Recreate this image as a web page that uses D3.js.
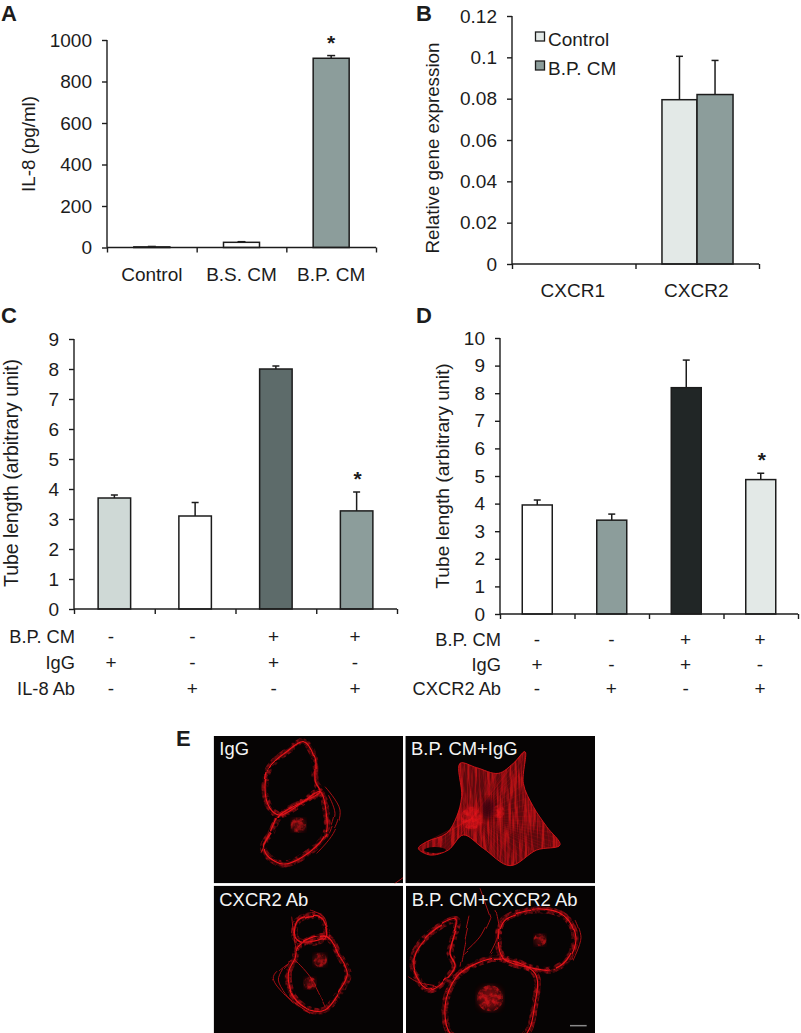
<!DOCTYPE html>
<html><head><meta charset="utf-8">
<script src="https://cdn.jsdelivr.net/npm/d3@7"></script>
<style>html,body{margin:0;padding:0;background:#fff}svg{display:block}text{font-family:"Liberation Sans",Arial,sans-serif;fill:#1c1c1c}</style>
</head><body><svg id="fig" width="801" height="1033"></svg>
<script>
// ---- data ----
const catsA = ["Control","B.S. CM","B.P. CM"];
const valsA = [3,25,912];
const errA  = [5,28,925];
const ticksA = [0,200,400,600,800,1000];
const catsB = ["CXCR1","CXCR2"];
const seriesB = ["Control","B.P. CM"];
const valsBControl = [0,0.0795];
const valsBCM = [0,0.082];
const errBControl = [0,0.1005];
const errBCM = [0,0.0985];
const ticksB = [0,0.02,0.04,0.06,0.08,0.1,0.12];
const valsC = [3.7,3.1,8.0,3.27];
const errC  = [3.8,3.55,8.1,3.9];
const ticksC = [0,1,2,3,4,5,6,7,8,9];
const valsD = [3.95,3.4,8.2,4.87];
const errD  = [4.13,3.62,9.2,5.1];
const ticksD = [0,1,2,3,4,5,6,7,8,9,10];
const rowsC = ["B.P. CM","IgG","IL-8 Ab"];
const rowsD = ["B.P. CM","IgG","CXCR2 Ab"];
const signsBP  = ["-","-","+","+"];
const signsIgG = ["+","-","+","-"];
const signsAb  = ["-","+","-","+"];
const imageLabels = ["IgG","B.P. CM+IgG","CXCR2 Ab","B.P. CM+CXCR2 Ab"];

// traced outlines of the micrograph cells, in reference-crop units
const cellsIgG = [
 [[400,65],[432,110],[436,185],[450,215],[400,245],[330,285],[300,265],[285,200],[300,140],[350,95]],
 [[450,215],[470,290],[468,340],[420,395],[340,432],[290,405],[280,380],[305,335],[330,285],[400,245]]];
const fibresIgG = [
 [[465,200],[510,270],[490,340],[440,400]],
 [[475,225],[495,280],[478,340]],
 [[668,490],[699,468]],
 [[270,395],[300,335]]];
const cellsBPIgG = [
 [[870,130],[920,143],[985,160],[1030,130],[1065,95],[1060,190],[1090,260],[1130,320],[1170,375],[1100,390],[1020,437],[940,385],[880,345],[835,390],[780,405],[745,385],[770,365],[830,340],[860,290],[875,230]]];
const cellsAb = [
 [[385,600],[450,590],[470,640],[465,655],[400,668],[375,650]],
 [[470,650],[510,710],[535,765],[500,830],[465,870],[420,870],[370,830],[355,760],[375,715],[385,680]]];
const fibresAb = [
 [[375,720],[420,770],[465,860]],
 [[365,720],[310,770],[340,820],[420,880]],
 [[350,730],[325,780],[370,850]],
 [[365,590],[375,670],[385,715]],
 [[420,570],[460,590],[470,640]]];
const cellsBPAb = [
 [[990,715],[1095,760],[1095,850],[1060,950],[850,950],[825,860],[860,770],[920,730]],
 [[1000,600],[1100,570],[1185,590],[1215,650],[1190,720],[1140,750],[1090,745],[1000,715],[985,650]],
 [[860,600],[840,700],[855,740],[780,810],[740,770],[730,710],[780,640]]];
const fibresBPAb = [
 [[900,590],[885,660],[870,740]],
 [[960,590],[930,650],[880,700]],
 [[975,570],[985,640],[960,700]],
 [[930,505],[960,590]],
 [[800,800],[750,790],[715,770]],
 [[1215,600],[1230,650],[1205,720]]];
const spots = [[385,315,20],[905,295,30],[985,275,16],[420,790,16],[960,835,36],[1110,660,16],[450,720,18]];

const svg = d3.select("#fig");
const ink = "#1c1c1c";
const tickFont = 19;

function panel(o){
  const g = svg.append("g");
  const n = o.cats;
  const x = d3.scaleLinear().domain([0,n]).range([o.x0,o.x1]);
  const y = d3.scaleLinear().domain([0,o.max]).range([o.y0,o.y1]);
  o.bars.forEach(b=>{
    g.append("line").attr("x1",x(b.c)).attr("x2",x(b.c)).attr("y1",y(b.v)).attr("y2",y(b.e)).attr("stroke",ink).attr("stroke-width",1.5);
    g.append("line").attr("x1",x(b.c)-o.cap).attr("x2",x(b.c)+o.cap).attr("y1",y(b.e)).attr("y2",y(b.e)).attr("stroke",ink).attr("stroke-width",1.5);
    g.append("rect").attr("x",x(b.c)-b.w/2).attr("width",b.w).attr("y",y(b.v)).attr("height",y(0)-y(b.v))
      .attr("fill",b.f).attr("stroke",ink).attr("stroke-width",1.5);
    if(b.star) g.append("text").attr("x",x(b.c)+(o.starDx||0)).attr("y",y(b.e)-6).attr("text-anchor","middle")
      .attr("font-size",21).attr("font-weight","bold").text("*");
  });
  const ay = d3.axisLeft(y).tickValues(o.ticks).tickSize(5).tickPadding(10).tickFormat(d=>String(d));
  const ax = d3.axisBottom(x).tickValues(d3.range(n+1)).tickSize(5).tickFormat("");
  const gy = g.append("g").attr("transform",`translate(${o.x0},0)`).call(ay);
  const gx = g.append("g").attr("transform",`translate(0,${o.y0})`).call(ax);
  [gx,gy].forEach(a=>{a.selectAll("path,line").attr("stroke",ink).attr("stroke-width",1.4);
    a.selectAll("text").attr("font-size",tickFont).attr("fill",ink);a.select(".domain").attr("d",null);});
  gy.append("line").attr("y1",y(0)).attr("y2",y(o.max)).attr("stroke",ink).attr("stroke-width",1.4);
  gx.append("line").attr("x1",x(0)).attr("x2",x(n)).attr("stroke",ink).attr("stroke-width",1.4);
  g.append("text").attr("transform",`translate(${o.titleX},${o.titleMid}) rotate(-90)`).attr("text-anchor","middle")
    .attr("font-size",o.titleSize).text(o.title);
  (o.labels||[]).forEach((l,i)=>g.append("text").attr("x",x(i+0.5)-(o.labelDx||0)).attr("y",o.labelY).attr("text-anchor","middle").attr("font-size",tickFont).text(l));
  if(o.rows){
    const sx = d3.scalePoint().domain(d3.range(4)).range(o.signRange);
    o.rows.forEach((r,ri)=>{
      g.append("text").attr("x",o.rowX).attr("y",o.rowY[ri]).attr("text-anchor","end").attr("font-size",18.3).text(r);
      [signsBP,signsIgG,signsAb][ri].forEach((s,i)=>g.append("text").attr("x",sx(i)).attr("y",o.rowY[ri]).attr("text-anchor","middle").attr("font-size",tickFont).text(s));
    });
  }
  g.append("text").attr("x",o.letter[0]).attr("y",o.letter[1]).attr("font-size",22).attr("font-weight","bold").text(o.name);
  return {x,y,g};
}

const cGrey="#8c9d9b", cPale="#e3e9e7", cLight="#cfd9d6", cDark="#5d6b6a", cBlack="#212626";

panel({name:"A",letter:[1,20.5],cats:3,x0:107,x1:376,y0:247.5,y1:40,max:1000,ticks:ticksA,cap:4,
  title:"IL-8 (pg/ml)",titleSize:18.8,titleX:34.5,titleMid:144,labels:catsA,labelY:281,
  bars:valsA.map((v,i)=>({c:i+0.5,v,e:errA[i],w:36,f:i==2?cGrey:"#fff",star:i==2}))});

const pB = panel({name:"B",letter:[416,20.5],cats:2,x0:512,x1:759,y0:264,y1:16,max:0.12,ticks:ticksB,cap:3.5,
  title:"Relative gene expression",titleSize:18.8,titleX:439,titleMid:148,labels:catsB,labelY:297,labelDx:1,
  bars:[{c:1.356,v:valsBControl[1],e:errBControl[1],w:35,f:cPale},{c:1.644,v:valsBCM[1],e:errBCM[1],w:36,f:cGrey}]});
seriesB.forEach((s,i)=>{
  const ly=[46,75][i];
  pB.g.append("rect").attr("x",535.5).attr("y",ly-14).attr("width",9).attr("height",9).attr("fill",i?cGrey:cPale).attr("stroke",ink).attr("stroke-width",1.3);
  pB.g.append("text").attr("x",548).attr("y",ly).attr("font-size",tickFont).text(s);
});

const colsC=[cLight,"#fff",cDark,cGrey];
panel({name:"C",letter:[1,323],cats:4,x0:74,x1:397,y0:609,y1:339,max:9,ticks:ticksC,cap:3.5,starDx:1,
  title:"Tube length (arbitrary unit)",titleSize:19.4,titleX:18,titleMid:473,rows:rowsC,rowX:75,rowY:[643,669,695],signRange:[111,355],
  bars:valsC.map((v,i)=>({c:i+0.5,v,e:errC[i],w:32.5,f:colsC[i],star:i==3}))});

const colsD=["#fff",cGrey,cBlack,cPale];
panel({name:"D",letter:[416,323],cats:4,x0:500,x1:798,y0:614,y1:338,max:10,ticks:ticksD,cap:3.5,starDx:1,
  title:"Tube length (arbitrary unit)",titleSize:19.2,titleX:449,titleMid:476,rows:rowsD,rowX:501,rowY:[646,671,695],signRange:[537,760],
  bars:valsD.map((v,i)=>({c:i+0.5,v,e:errD[i],w:30,f:colsD[i],star:i==3}))});

// ---- panel E micrographs ----
svg.append("text").attr("x",176).attr("y",746).attr("font-size",22).attr("font-weight","bold").text("E");
const defs = svg.append("defs");
const px = d3.scaleLinear().domain([0,1290]).range([170,600]);
const py = d3.scaleLinear().domain([0,939]).range([720,1033]);
function wobble(id,freq,scale,blur){
  const f=defs.append("filter").attr("id",id).attr("x","-30%").attr("y","-30%").attr("width","160%").attr("height","160%");
  f.append("feTurbulence").attr("type","fractalNoise").attr("baseFrequency",freq).attr("numOctaves",2).attr("seed",4).attr("result","n");
  f.append("feDisplacementMap").attr("in","SourceGraphic").attr("in2","n").attr("scale",scale).attr("result","d");
  f.append("feGaussianBlur").attr("in","d").attr("stdDeviation",blur);
}
wobble("fine",0.03,4,0.35);
function streak(id,freq,seed){
  const f=defs.append("filter").attr("id",id).attr("x","-10%").attr("y","-10%").attr("width","120%").attr("height","120%");
  f.append("feTurbulence").attr("type","fractalNoise").attr("baseFrequency",freq).attr("numOctaves",3).attr("seed",seed).attr("result","n");
  f.append("feColorMatrix").attr("in","n").attr("type","matrix").attr("values","0 0 0 0 1  0 0 0 0 1  0 0 0 0 1  3.2 0 0 0 -1.2").attr("result","m");
  f.append("feComposite").attr("in","SourceGraphic").attr("in2","m").attr("operator","in").attr("result","c");
  f.append("feGaussianBlur").attr("in","c").attr("stdDeviation",0.4);
}
streak("vstreak","0.4 0.035",3);
streak("speck","0.2 0.2",9);
const glow=defs.append("filter").attr("id","glow");glow.append("feGaussianBlur").attr("stdDeviation",3);
const tiles=[
 {x:[131,699],y:[48,490],cells:cellsIgG,fibres:fibresIgG},
 {x:[706,1275],y:[48,490],cells:cellsBPIgG,fibres:[],filled:true},
 {x:[131,699],y:[497,939],cells:cellsAb,fibres:fibresAb},
 {x:[708,1275],y:[497,939],cells:cellsBPAb,fibres:fibresBPAb}];
const outline=d3.line().x(d=>px(d[0])).y(d=>py(d[1]));
const shrink=(c,k)=>{const m=[d3.mean(c,d=>d[0]),d3.mean(c,d=>d[1])];return c.map(d=>[m[0]+(d[0]-m[0])*k,m[1]+(d[1]-m[1])*k]);};
tiles.forEach((t,i)=>{
  const X=px(t.x[0]),Y=py(t.y[0]),W=px(t.x[1])-X,H=py(t.y[1])-Y;
  defs.append("clipPath").attr("id","tile"+i).append("rect").attr("x",X).attr("y",Y).attr("width",W).attr("height",H);
  const g=svg.append("g").attr("clip-path",`url(#tile${i})`);
  g.append("rect").attr("x",X).attr("y",Y).attr("width",W).attr("height",H).attr("fill","#060404");
  const closed=c=>outline.curve(d3.curveCatmullRomClosed.alpha(0.5))(c);
  t.cells.forEach(c=>{
    if(t.filled){
      const shape=closed(c);
      g.append("path").attr("d",shape).attr("fill","#5c0a0e");
      g.append("path").attr("d",shape).attr("fill","#cf1319").attr("opacity",0.75).attr("filter","url(#vstreak)");
      const ref=g.append("path").attr("d",shape).attr("fill","none").attr("stroke","#d8161b").attr("stroke-width",0.9);
      const hub=[905,295], L=ref.node().getTotalLength();
      d3.range(0,L,7).forEach(s=>{const p=ref.node().getPointAtLength(s);
        g.append("line").attr("x1",px(hub[0])).attr("y1",py(hub[1])).attr("x2",p.x).attr("y2",p.y).attr("stroke","#e0161c").attr("stroke-width",0.5).attr("opacity",0.3);});
    } else {
      g.append("path").attr("d",closed(c)).attr("fill","none").attr("stroke","#c8121a").attr("stroke-width",7).attr("opacity",0.6).attr("filter","url(#speck)");
      [1.06,1.03,0.96].forEach(k=>g.append("path").attr("d",closed(shrink(c,k))).attr("fill","none").attr("stroke","#b3101a").attr("stroke-width",0.6).attr("opacity",0.5).attr("filter","url(#fine)"));
      g.append("path").attr("d",closed(c)).attr("fill","none").attr("stroke","#e8141a").attr("stroke-width",1.2).attr("filter","url(#fine)");
    }
  });
  t.fibres.forEach(c=>{
    g.append("path").attr("d",outline.curve(d3.curveCatmullRom)(c)).attr("fill","none").attr("stroke","#d8141a").attr("stroke-width",1).attr("opacity",0.75).attr("filter","url(#fine)");
  });
});
const spotLayer=svg.append("g");
spots.forEach(s=>{
  spotLayer.append("circle").attr("cx",px(s[0])).attr("cy",py(s[1])).attr("r",s[2]/3).attr("fill","#e8141a").attr("opacity",0.45).attr("filter","url(#glow)");
  spotLayer.append("circle").attr("cx",px(s[0])).attr("cy",py(s[1])).attr("r",s[2]/3+1).attr("fill","#ee151b").attr("opacity",0.6).attr("filter","url(#speck)");
});
spotLayer.append("ellipse").attr("cx",px(955)).attr("cy",py(265)).attr("rx",7).attr("ry",11).attr("fill","#2a0608").attr("opacity",0.7).attr("filter","url(#glow)");
spotLayer.append("ellipse").attr("cx",px(795)).attr("cy",py(390)).attr("rx",11).attr("ry",3).attr("fill","#060404");
svg.append("line").attr("x1",px(1200)).attr("x2",px(1250)).attr("y1",py(917)).attr("y2",py(917)).attr("stroke","#8a8a8a").attr("stroke-width",1.5);
imageLabels.forEach((l,i)=>svg.append("text").attr("x",px(tiles[i].x[0]+17)).attr("y",py(i<2?105:558)).attr("font-size",18.4).style("fill","#f4f4f4").text(l));
</script></body></html>
